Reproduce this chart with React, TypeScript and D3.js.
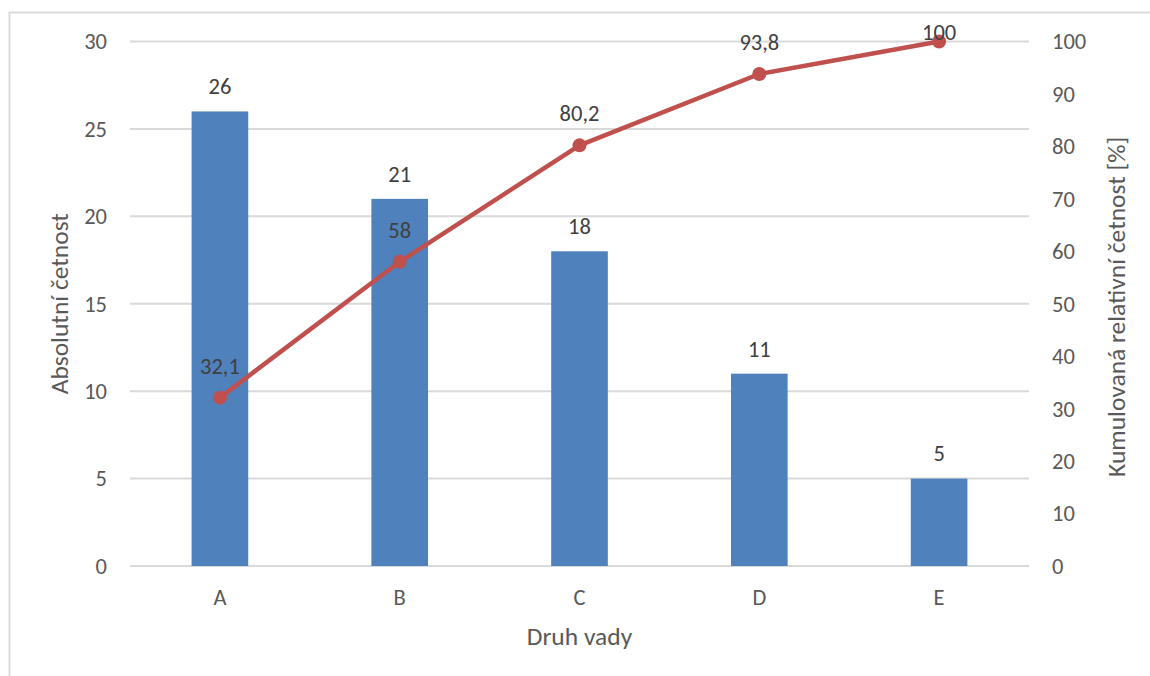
import React from 'react';
import * as d3 from 'd3';

// Pareto data: defect types, absolute counts and cumulative relative frequency
const categories = ['A', 'B', 'C', 'D', 'E'];
const counts = [26, 21, 18, 11, 5];
const cumulative = [32.1, 58, 80.2, 93.8, 100];
const leftTicks = [0, 5, 10, 15, 20, 25, 30];
const rightTicks = [0, 10, 20, 30, 40, 50, 60, 70, 80, 90, 100];

const W = 1150;
const H = 676;
const plot = { left: 130, right: 1029, top: 41.5, bottom: 566 };

const FONT = 'Calibri, Carlito, Lato, sans-serif';
const TICK_COLOR = '#595959';
const LABEL_COLOR = '#404040';
const GRID = '#D9D9D9';
const BAR = '#4F81BD';
const LINE = '#C0504D';
const TICK_SIZE = 22.5;
const TITLE_SIZE = 25.5;

const fmt = (v: number) => String(v).replace('.', ',');

export default function App() {
  const x = d3
    .scaleBand<string>()
    .domain(categories)
    .range([plot.left, plot.right])
    .paddingInner(0.685)
    .paddingOuter(0.3425);
  const yLeft = d3.scaleLinear().domain([0, 30]).range([plot.bottom, plot.top]);
  const yRight = d3.scaleLinear().domain([0, 100]).range([plot.bottom, plot.top]);
  const cx = (c: string) => (x(c) as number) + x.bandwidth() / 2;

  const line = d3
    .line<number>()
    .x((_, i) => cx(categories[i]))
    .y((d) => yRight(d));

  return (
    <svg
      width={W}
      height={H}
      style={{ position: 'absolute', left: 0, top: 0, background: '#fff' }}
      fontFamily={FONT}
    >
      {/* chart area frame */}
      <rect x={9.5} y={12.5} width={W + 20} height={H + 20} fill="#fff" stroke={GRID} strokeWidth={2} />

      {/* gridlines */}
      {leftTicks.map((t) => (
        <line
          key={'g' + t}
          x1={plot.left}
          x2={plot.right}
          y1={yLeft(t)}
          y2={yLeft(t)}
          stroke={GRID}
          strokeWidth={2}
        />
      ))}

      {/* left axis tick labels */}
      {leftTicks.map((t) => (
        <text
          key={'l' + t}
          x={107}
          y={yLeft(t)}
          dy="0.35em"
          textAnchor="end"
          fontSize={TICK_SIZE}
          fill={TICK_COLOR}
        >
          {t}
        </text>
      ))}

      {/* right axis tick labels */}
      {rightTicks.map((t) => (
        <text
          key={'r' + t}
          x={1052}
          y={yRight(t)}
          dy="0.35em"
          textAnchor="start"
          fontSize={TICK_SIZE}
          fill={TICK_COLOR}
        >
          {t}
        </text>
      ))}

      {/* category labels */}
      {categories.map((c) => (
        <text key={'c' + c} x={cx(c)} y={605} textAnchor="middle" fontSize={TICK_SIZE} fill={TICK_COLOR}>
          {c}
        </text>
      ))}

      {/* bars */}
      {categories.map((c, i) => (
        <rect
          key={'b' + c}
          x={x(c)}
          y={yLeft(counts[i])}
          width={x.bandwidth()}
          height={plot.bottom - yLeft(counts[i])}
          fill={BAR}
        />
      ))}

      {/* bar value labels */}
      {categories.map((c, i) => (
        <text
          key={'bl' + c}
          x={cx(c)}
          y={yLeft(counts[i]) - 25}
          dy="0.35em"
          textAnchor="middle"
          fontSize={TICK_SIZE}
          fill={LABEL_COLOR}
        >
          {fmt(counts[i])}
        </text>
      ))}

      {/* cumulative line */}
      <path d={line(cumulative) || ''} fill="none" stroke={LINE} strokeWidth={4.5} strokeLinejoin="round" />
      {cumulative.map((v, i) => (
        <circle key={'m' + i} cx={cx(categories[i])} cy={yRight(v)} r={7} fill={LINE} />
      ))}

      {/* cumulative value labels */}
      {cumulative.map((v, i) => (
        <text
          key={'ml' + i}
          x={cx(categories[i])}
          y={Math.max(yRight(v) - 32, 32.5)}
          dy="0.35em"
          textAnchor="middle"
          fontSize={TICK_SIZE}
          fill={LABEL_COLOR}
        >
          {fmt(v)}
        </text>
      ))}

      {/* axis titles */}
      <text x={579.5} y={645} textAnchor="middle" fontSize={TITLE_SIZE} fill={TICK_COLOR}>
        Druh vady
      </text>
      <text
        transform={`translate(68,${(plot.top + plot.bottom) / 2}) rotate(-90)`}
        textAnchor="middle"
        fontSize={TITLE_SIZE}
        fill={TICK_COLOR}
      >
        Absolutní četnost
      </text>
      <text
        transform={`translate(1125,${(plot.top + plot.bottom) / 2 + 3}) rotate(-90)`}
        textAnchor="middle"
        fontSize={TITLE_SIZE}
        fill={TICK_COLOR}
      >
        Kumulovaná relativní četnost [%]
      </text>
    </svg>
  );
}
